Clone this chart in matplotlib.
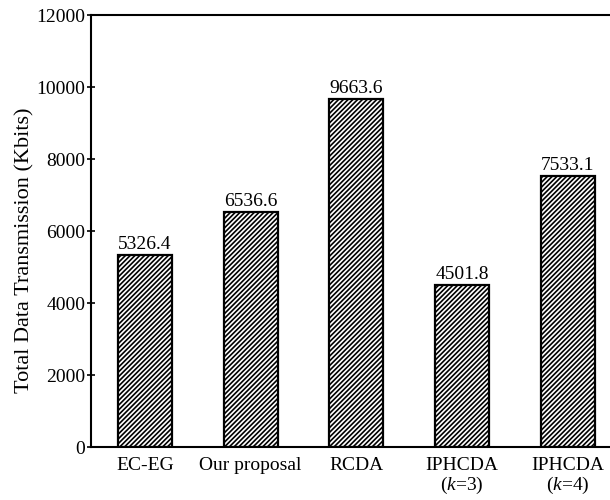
import matplotlib
matplotlib.use("Agg")
import matplotlib.pyplot as plt

categories = ["EC-EG", "Our proposal", "RCDA", "IPHCDA\n($k$=3)", "IPHCDA\n($k$=4)"]
values = [5326.4, 6536.6, 9663.6, 4501.8, 7533.1]
yticks = [0, 2000, 4000, 6000, 8000, 10000, 12000]

plt.rcParams["font.family"] = ["Liberation Serif", "DejaVu Serif"]
plt.rcParams["mathtext.fontset"] = "custom"
plt.rcParams["mathtext.it"] = "Liberation Serif:italic"
plt.rcParams["mathtext.rm"] = "Liberation Serif"
plt.rcParams["hatch.linewidth"] = 1.2

fig = plt.figure(figsize=(6.1, 5.0), dpi=100)
# axes run past the right border of the figure, so the right spine is cut off
ax = fig.add_axes([91 / 610, 53 / 500, 535 / 610, 432 / 500])

x = list(range(len(categories)))
ax.bar(x, values, width=0.51, facecolor="white", edgecolor="black",
       linewidth=1.6, hatch="///////")

for xi, v in zip(x, values):
    ax.text(xi, v + 60, f"{v:.1f}", ha="center", va="bottom", fontsize=14)

ax.set_xlim(-0.51, 4.55)
ax.set_ylim(0, 12000)
ax.set_yticks(yticks)
ax.set_xticks(x)
ax.set_xticklabels(categories, fontsize=14, linespacing=1.05)
ax.tick_params(axis="x", length=0, pad=7)
ax.tick_params(axis="y", direction="inout", length=6, width=1.2, labelsize=14, pad=1)

for side in ("left", "bottom", "top", "right"):
    ax.spines[side].set_linewidth(1.5)

ax.set_ylabel("Total Data Transmission (Kbits)", fontsize=16)
ax.yaxis.set_label_coords(-0.106, 0.456)

fig.savefig("out.png", dpi=100)
